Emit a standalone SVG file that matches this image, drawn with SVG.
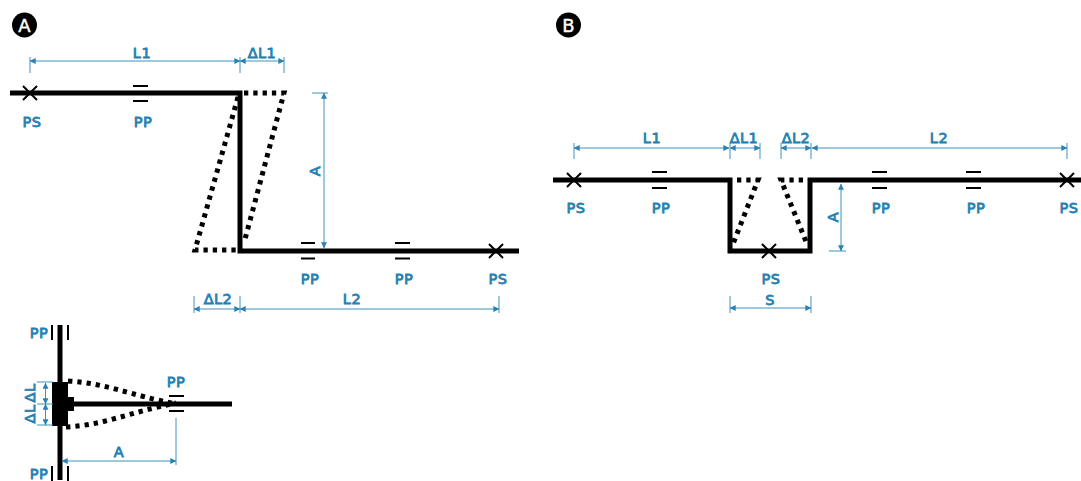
<svg xmlns="http://www.w3.org/2000/svg" width="1081" height="481" viewBox="0 0 1081 481">
<style>
text{font-family:"DejaVu Sans","Liberation Sans",sans-serif;font-weight:400;font-size:14.500px;letter-spacing:.5px;fill:#2480b2;stroke:#2480b2;stroke-width:.8px;text-anchor:middle}
.beam{fill:none;stroke:#000;stroke-width:5;stroke-linejoin:miter}
.dot{fill:none;stroke:#000;stroke-width:5;stroke-dasharray:4.300 5}
.thin{fill:none;stroke:#000;stroke-width:2}
.dim{fill:none;stroke:#3c92bd;stroke-width:1;marker-start:url(#a);marker-end:url(#a)}
.ext{fill:none;stroke:#3c92bd;stroke-width:1}
text.lab{fill:#fff;stroke:#fff;font-size:18px;stroke-width:.4px;letter-spacing:0}
</style>
<defs><marker id="a" viewBox="0 0 10 10" refX="9.500" refY="5" markerWidth="6" markerHeight="6" markerUnits="userSpaceOnUse" orient="auto-start-reverse"><path d="M0 0L10 5L0 10Z" fill="#2a82b0"/></marker></defs>
<g id="panel-a-marker"><circle cx="24.500" cy="25" r="12.500" fill="#000"/><text class="lab" x="24.500" y="31.500">A</text></g>
<g id="panel-b-marker"><circle cx="568.500" cy="25" r="12.500" fill="#000"/><text class="lab" x="568.500" y="31.500">B</text></g>
<g id="connectors">
<path class="beam" d="M10 93H240V251H519"/>
<path class="dot" d="M244 93H284L244 243"/>
<path class="dot" d="M238 97L195 250H236"/>
<path class="thin" d="M23 86L37 100M37 86L23 100M133 86H148M133 101H148M301 243H315M301 258.500H315M395 243H410M395 258.500H410M489 244L503 258M503 244L489 258"/>
<path class="dim" d="M30 61H240"/><path class="dim" d="M240 61H284"/>
<path class="ext" d="M30 57V73M240 57V73M284 57V73M312 93H328"/>
<path class="dim" d="M324 93V248"/>
<path class="dim" d="M194 309H240"/><path class="dim" d="M240 309H499"/>
<path class="ext" d="M194 296V313M240 296V313M499 296V313"/>
<path class="beam" d="M60 325V480M60 404H232"/>
<path d="M52 382H68V426H52ZM68 397H74V411H68Z" fill="#000"/>
<path class="thin" d="M52 325V340M68 325V340M52 466V481M68 466V481M169 396H184M169 411H184"/>
<path class="dot" d="M68 381C105 383 130 395 176 404"/>
<path class="dot" d="M66 427C105 425 130 412 176 403"/>
<path class="ext" d="M37 382H53M37 404H53M37 425H53M176 418V465"/>
<path class="dim" d="M45.500 383V404"/><path class="dim" d="M45.500 404V425"/>
<path class="dim" d="M62 461H176"/>
<path class="beam" d="M553 180H730V251H810V180H1081"/>
<path class="dot" d="M737 180H758L733 244"/>
<path class="dot" d="M803 180H781L807 244"/>
<path class="thin" d="M567 173L581 187M581 173L567 187M652 172H667M652 188H667M762 244L776 258M776 244L762 258M872 172H887M872 188H887M966 172H981M966 188H981M1060 173L1074 187M1074 173L1060 187"/>
<path class="dim" d="M574 148H729"/><path class="dim" d="M730 148H760"/><path class="dim" d="M781 148H811"/><path class="dim" d="M812 148H1067"/>
<path class="ext" d="M574 143V159M730 143V159M760 143V159M781 143V159M811 143V159M1067 143V159M829 251H846"/>
<path class="dim" d="M841 184V251"/>
<path class="dim" d="M730 308H811"/>
<path class="ext" d="M730 296V313M811 296V313"/>
</g>
<g id="labels">
<text x="142" y="58">L1</text><text x="262" y="58">ΔL1</text>
<text x="32" y="127">PS</text><text x="143" y="127">PP</text>
<text x="310" y="284">PP</text><text x="404" y="284">PP</text><text x="498" y="284">PS</text>
<text x="218" y="304">ΔL2</text><text x="352" y="304">L2</text>
<text transform="translate(320 171) rotate(-90)">A</text>
<text x="39" y="338">PP</text><text x="39" y="479">PP</text><text x="176" y="387">PP</text>
<text x="119" y="457">A</text>
<text transform="translate(35 393) rotate(-90)">ΔL</text>
<text transform="translate(35 414) rotate(-90)">ΔL</text>
<text x="652" y="143">L1</text><text x="744" y="143">ΔL1</text><text x="796" y="143">ΔL2</text><text x="939" y="143">L2</text>
<text x="576" y="213">PS</text><text x="661" y="213">PP</text><text x="881" y="213">PP</text><text x="976" y="213">PP</text><text x="1069" y="213">PS</text>
<text x="771" y="284">PS</text><text x="770" y="305">S</text>
<text transform="translate(838 217) rotate(-90)">A</text>
</g>
</svg>
